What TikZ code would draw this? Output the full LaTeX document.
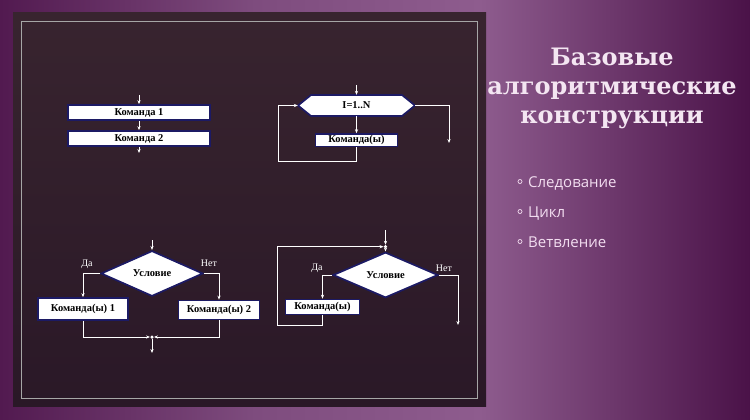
\documentclass[tikz,border=0pt]{standalone}
\usepackage{fontspec}
\setmainfont{Liberation Serif}
\newfontfamily\titlefont{DejaVu Serif}
\newfontfamily\listfont{Open Sans}
\usetikzlibrary{arrows.meta,shapes.geometric}

\definecolor{bgdark}{HTML}{521A50}
\definecolor{bgmid}{HTML}{7E4C7E}
\definecolor{bglight}{HTML}{8E5C8E}
\definecolor{bgright}{HTML}{4A1248}
\definecolor{paneltop}{HTML}{38242F}
\definecolor{panelbot}{HTML}{2A1827}
\definecolor{boxblue}{HTML}{1C1A64}
\definecolor{titlepink}{HTML}{F4E6F2}
\definecolor{listpink}{HTML}{F2DDF0}

\pgfdeclarehorizontalshading{slidebg}{100bp}{color(0bp)=(bgdark); color(25bp)=(bgdark);
  color(42bp)=(bgmid); color(57bp)=(bglight); color(75bp)=(bgright); color(100bp)=(bgright)}

\tikzset{
  flow/.style={->,white,line width=0.8pt},
  cmdbox/.style={draw=boxblue,line width=1.7pt,fill=white,inner sep=0pt,
    font=\bfseries\fontsize{10.5}{12}\selectfont},
  cond/.style={diamond,draw=boxblue,line width=1.7pt,fill=white,inner sep=0pt,
    font=\bfseries\fontsize{10.5}{12}\selectfont},
  yesno/.style={white,inner sep=0pt,font=\fontsize{10}{11}\selectfont},
  jdot/.style={circle,fill=white,inner sep=0pt,minimum size=3.5pt},
  item/.style={anchor=base west,inner sep=0pt,text=listpink,font=\listfont\fontsize{15}{18}\selectfont}
}

\begin{document}
\begin{tikzpicture}[x=1pt,y=-1pt,>={Stealth[length=4pt,width=3.2pt]}]
  \useasboundingbox (0,0) rectangle (750,420);
  \shade[shading=slidebg] (0,0) rectangle (750,420);
  \shade[top color=paneltop,bottom color=panelbot] (13,13) rectangle (486,406);
  \draw[gray!70,line width=0.5pt] (21.5,21) rectangle (477.5,398);

  \node[titlepink,align=center,font=\titlefont\bfseries\fontsize{24}{29}\selectfont] (title)
    at (612,88) {Базовые\\алгоритмические\\конструкции};
  \foreach \t [count=\i] in {Следование,Цикл,Ветвление} {
    \node[item] (it\i) at (528,157+30*\i) {\t};
    \draw[listpink,line width=0.7pt] ([xshift=-8pt,yshift=5.5pt]it\i.base west) circle (2pt);
  }

  \coordinate (s0) at (139,95);
  \node[cmdbox,minimum width=142pt,minimum height=15pt] (k1) at (139,112.5) {Команда 1};
  \node[cmdbox,minimum width=142pt,minimum height=15pt] (k2) at (139,138.5) {Команда 2};
  \coordinate (s3) at (139,153);
  \draw[flow] (s0) -- (k1);
  \draw[flow] (k1) -- (k2);
  \draw[flow] (k2) -- (s3);

  \filldraw[draw=boxblue,line width=1.7pt,fill=white]
    (298,105.5) -- (311,95) -- (402,95) -- (415,105.5) -- (402,116) -- (311,116) -- cycle;
  \node[inner sep=0pt,minimum width=117pt,minimum height=21pt,
    font=\bfseries\fontsize{10.5}{12}\selectfont] (cyc) at (356.5,105.5) {I=1..N};
  \coordinate (c0) at (356.5,85);
  \node[cmdbox,minimum width=82pt,minimum height=12.5pt] (kc) at (356.5,140.3) {Команда(ы)};
  \coordinate (cl) at (278,161);
  \coordinate (ce) at (449,143);
  \draw[flow] (c0) -- (cyc);
  \draw[flow] (cyc) -- (kc);
  \draw[flow] (kc.south) |- (cl) |- (cyc.west);
  \draw[flow] (cyc.east) -| (ce);

  \coordinate (b0) at (152,240);
  \node[cond,minimum width=102pt,minimum height=37pt] (u1) at (152,273.5) {Условие};
  \node[cmdbox,minimum width=90pt,minimum height=22pt] (r1) at (83,309) {Команда(ы) 1};
  \node[cmdbox,minimum width=81pt,minimum height=19pt] (r2) at (219,310) {Команда(ы) 2};
  \node[jdot] (m1) at (152,337) {};
  \coordinate (b9) at (152,353);
  \draw[flow] (b0) -- (u1);
  \draw[flow] (u1.west) -| (r1);
  \draw[flow] (u1.east) -| (r2);
  \draw[flow] (r1) |- (m1);
  \draw[flow] (r2) |- (m1);
  \draw[flow] (m1) -- (b9);
  \node[yesno] (da1) at (87,264) {Да};
  \node[yesno] (net1) at (209,263) {Нет};

  \coordinate (w0) at (385.5,230);
  \node[jdot] (j) at (385.5,246.7) {};
  \node[cond,minimum width=105pt,minimum height=27pt] (u2) at (385.5,275) {Условие};
  \node[cmdbox,minimum width=74pt,minimum height=15pt] (r3) at (322.5,307) {Команда(ы)};
  \coordinate (wl) at (277,325);
  \coordinate (we) at (458,325);
  \draw[flow] (w0) -- (j);
  \draw[flow] (j) -- (u2);
  \draw[flow] (u2.west) -| (r3);
  \draw[flow] (r3) |- (wl) |- (j);
  \draw[flow] (u2.east) -| (we);
  \node[yesno] (da2) at (317,268) {Да};
  \node[yesno] (net2) at (444,268) {Нет};
\end{tikzpicture}
\end{document}
